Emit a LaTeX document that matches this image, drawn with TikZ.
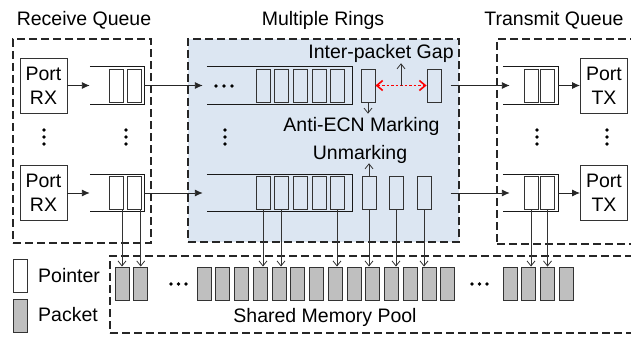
\documentclass[tikz,border=0pt]{standalone}
\usepackage{fontspec}
\setmainfont{Liberation Sans}
\usetikzlibrary{arrows.meta,calc}
\definecolor{ringblue}{RGB}{220,230,242}
\definecolor{pktgray}{RGB}{191,191,191}
\definecolor{gapred}{RGB}{255,0,0}
\begin{document}
\begin{tikzpicture}[x=1pt,y=-1pt,
  every node/.style={font=\fontsize{19.5}{24}\selectfont},
  grp/.style={draw=black!85, dash pattern=on 8pt off 4pt, line width=1.1pt, inner sep=0pt},
  port/.style={draw=black!80, line width=0.9pt, minimum width=47pt, minimum height=55pt, inner sep=0pt, align=center},
  ptr/.style={draw=black!80, line width=0.9pt, minimum width=14pt, minimum height=33pt, inner sep=0pt},
  pkt/.style={ptr, fill=pktgray},
  qbox/.style={minimum width=#1, minimum height=37pt, inner sep=0pt},
  qline/.style={draw=black!90, line width=1pt},
  flow/.style={-{Latex[length=8pt,width=7pt]}, line width=0.9pt, black!85},
  ref/.style={-{Straight Barb[length=5pt,width=8pt]}, line width=0.8pt, black!80},
  gapline/.style={draw=gapred, line width=1.6pt, dash pattern=on 2.5pt off 2pt,
    {Straight Barb[length=6pt,width=10pt]}-{Straight Barb[length=6pt,width=10pt]}},
  lbl/.style={inner sep=0pt, anchor=base},
  dot/.style={circle, fill=black, inner sep=0pt, minimum size=3.8pt},
]
\useasboundingbox (0,0) rectangle (631,337);

% group boxes
\node[grp, minimum width=138pt, minimum height=204pt] (recv) at (82,141) {};
\node[grp, fill=ringblue, minimum width=271pt, minimum height=203pt] (rings) at (323.5,140.5) {};
\node[grp, minimum width=148pt, minimum height=205pt] (trans) at (571,141.5) {};
\node[grp, minimum width=535pt, minimum height=77pt] (poolbox) at (377.5,294.5) {};

% titles
\node[lbl] (tRecv) at (84,25.5) {Receive Queue};
\node[lbl] (tRings) at (323,25.5) {Multiple Rings};
\node[lbl] (tTx) at (554,25.5) {Transmit Queue};

% ports
\node[port] (rx1) at (43.5,85.5) {Port\\RX};
\node[port] (rx2) at (43.5,193) {Port\\RX};
\node[port] (tx1) at (604,85.5) {Port\\TX};
\node[port] (tx2) at (604,193) {Port\\TX};

% queues
\node[qbox=54pt] (rq1) at (117,85.5) {};
\node[qbox=54pt] (rq2) at (117,193) {};
\node[qbox=145pt] (gq1) at (279.5,85.5) {};
\node[qbox=145pt] (gq2) at (279.5,193) {};
\node[qbox=55pt] (tq1) at (530.5,85.5) {};
\node[qbox=55pt] (tq2) at (530.5,193) {};
\foreach \q in {rq1,rq2,gq1,gq2,tq1,tq2}{
  \draw[qline] (\q.north west) -- (\q.north east) -- (\q.south east) -- (\q.south west);
}

% pointers in receive queues
\node[ptr] (rp1) at (116,85.5) {};
\node[ptr] (rp2) at (134.5,85.5) {};
\node[ptr] (rp3) at (116,193) {};
\node[ptr] (rp4) at (134.5,193) {};
% pointers in rings
\foreach \i/\x in {1/263,2/281,3/300,4/319,5/337}{
  \node[ptr] (gp\i) at (\x,85.5) {};
}
\foreach \i/\x in {6/263,7/281,8/300,9/319,10/337}{
  \node[ptr] (gp\i) at (\x,193) {};
}
% pointers out of rings
\node[ptr] (og1) at (368,85.5) {};
\node[ptr] (og2) at (434,85.5) {};
\node[ptr] (og3) at (369,193) {};
\node[ptr] (og4) at (396,193) {};
\node[ptr] (og5) at (424,193) {};
% pointers in transmit queues
\node[ptr] (tp1) at (531,85.5) {};
\node[ptr] (tp2) at (547.5,85.5) {};
\node[ptr] (tp3) at (531,193) {};
\node[ptr] (tp4) at (547.5,193) {};

% packets
\node[pkt] (a1) at (122,283.5) {};
\node[pkt] (a2) at (140.75,283.5) {};
\foreach \i in {1,...,14}{
  \node[pkt] (b\i) at ({204+(\i-1)*18.75},283.5) {};
}
\foreach \i in {1,...,4}{
  \node[pkt] (c\i) at ({510+(\i-1)*18.75},283.5) {};
}

% flow arrows
\draw[flow] (rx1.east) -- (rq1.west);
\draw[flow] (rx2.east) -- (rq2.west);
\draw[flow, shorten >=4pt] (rq1.east) -- (gq1.west);
\draw[flow, shorten >=4pt] (rq2.east) -- (gq2.west);
\draw[flow] ([xshift=-9pt]rings.east |- tq1.west) -- ([xshift=7pt]tq1.west);
\draw[flow] ([xshift=-9pt]rings.east |- tq2.west) -- ([xshift=7pt]tq2.west);
\draw[flow] (tq1.east) -- (tx1.west);
\draw[flow] (tq2.east) -- (tx2.west);

% vertical dots
\foreach \x in {44,126,225,537,607}{
  \foreach \y in {130,137,144}{
    \node[dot] at (\x,\y) {};
  }
}
% horizontal dots
\foreach \x/\y in {216/86,224/86,232/86,171/284,178.5/284,186/284,472/284,479.5/284,487/284}{
  \node[dot] at (\x,\y) {};
}

% labels
\node[lbl] (gap) at (381,59) {Inter-packet Gap};
\node[lbl] (anti) at (361.5,131) {Anti-ECN Marking};
\node[lbl] (unmark) at (360,159) {Unmarking};
\node[lbl] (pool) at (325,322) {Shared Memory Pool};

% gap and marking arrows
\coordinate (gm) at ($(og1.east)!0.5!(og2.west)$);
\draw[gapline] (og1.east) -- (og2.west);
\draw[ref] (gm) -- (gm |- gap.south);
\draw[ref, shorten >=3pt] (og1.south) -- (og1.south |- anti.north);
\draw[ref] (og3.north) -- (og3.north |- unmark.south);

% pointer to packet references
\draw[ref] (a1.north |- rp3.south) -- (a1.north);
\draw[ref] (a2.north |- rp4.south) -- (a2.north);
\draw[ref] (gp6.south) -- (gp6.south |- b4.north);
\draw[ref] (gp7.south) -- (gp7.south |- b5.north);
\draw[ref] (gp10.south) -- (gp10.south |- b8.north);
\draw[ref] (og3.south) -- (og3.south |- b10.north);
\draw[ref] (og4.south) -- (og4.south |- b11.north);
\draw[ref] (og5.south) -- (og5.south |- b13.north);
\draw[ref] (tp3.south) -- (tp3.south |- c2.north);
\draw[ref] (tp4.south) -- (tp4.south |- c3.north);

% legend
\node[ptr, fill=white] (lp) at (20,276) {};
\node[pkt] (lk) at (20,316) {};
\node[lbl, anchor=base west] (legptr) at (38,282) {Pointer};
\node[lbl, anchor=base west] (legpkt) at (38,321) {Packet};
\end{tikzpicture}
\end{document}
